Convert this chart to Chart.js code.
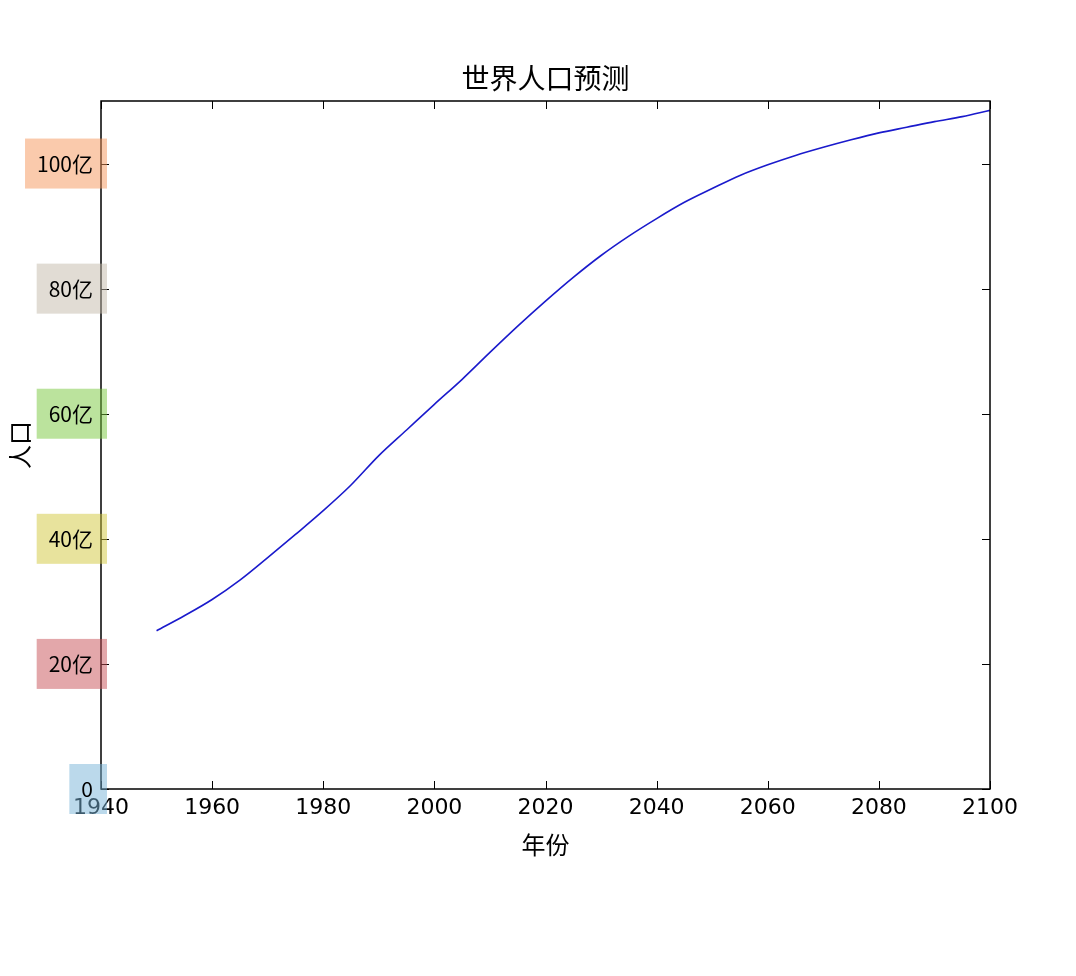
<!DOCTYPE html>
<html><head><meta charset="utf-8">
<script src="https://cdn.jsdelivr.net/npm/chart.js@4"></script>
<style>html,body{margin:0;padding:0;background:#fff}#w{width:1076px;height:976px}</style>
</head><body><div id="w"><canvas id="c"></canvas></div>
<script>
const years = [1950,1955,1960,1965,1970,1975,1980,1985,1990,1995,2000,2005,2010,2015,2020,2025,2030,2035,2040,2045,2050,2055,2060,2065,2070,2075,2080,2085,2090,2095,2100];
const population = [2.53,2.77,3.03,3.34,3.70,4.07,4.45,4.86,5.33,5.74,6.15,6.55,6.98,7.40,7.80,8.18,8.53,8.84,9.12,9.38,9.60,9.81,9.98,10.13,10.26,10.38,10.49,10.58,10.67,10.75,10.85];
const xTicks = [1940,1960,1980,2000,2020,2040,2060,2080,2100];
const yTicks = [0,2,4,6,8,10];
const yTickLabels = ['0','20亿','40亿','60亿','80亿','100亿'];
const yTickColors = ['rgba(120,180,215,0.5)','rgba(200,80,85,0.5)','rgba(210,200,60,0.5)','rgba(120,200,60,0.5)','rgba(195,185,170,0.5)','rgba(245,150,90,0.5)'];
const CJK = '"Noto Sans CJK SC","DejaVu Sans",sans-serif';
const deco = {
  id:'deco',
  afterDraw(ch){
    const {ctx, chartArea:a, scales:{x,y}} = ch;
    ctx.save();
    ctx.strokeStyle='#000'; ctx.lineWidth=1.5;
    ctx.strokeRect(a.left,a.top,a.right-a.left,a.bottom-a.top);
    ctx.lineWidth=1;
    xTicks.forEach(v=>{const p=Math.round(x.getPixelForValue(v))+0.5;
      ctx.beginPath();ctx.moveTo(p,a.bottom);ctx.lineTo(p,a.bottom-8);ctx.moveTo(p,a.top);ctx.lineTo(p,a.top+8);ctx.stroke();});
    yTicks.forEach(v=>{const p=Math.round(y.getPixelForValue(v))+0.5;
      ctx.beginPath();ctx.moveTo(a.left,p);ctx.lineTo(a.left+8,p);ctx.moveTo(a.right,p);ctx.lineTo(a.right-8,p);ctx.stroke();});
    ctx.fillStyle='#000';ctx.font='22px "DejaVu Sans",sans-serif';ctx.textAlign='center';ctx.textBaseline='top';
    xTicks.forEach(v=>ctx.fillText(String(v),x.getPixelForValue(v),a.bottom+8));
    ctx.font='21px '+CJK;ctx.textAlign='right';ctx.textBaseline='middle';
    yTicks.forEach((v,i)=>{const p=y.getPixelForValue(v);const w=ctx.measureText(yTickLabels[i]).width;
      ctx.fillStyle=yTickColors[i];ctx.fillRect(a.left-w-20,p-25,w+26,50);
      ctx.fillStyle='#000';ctx.fillText(yTickLabels[i],a.left-8,p);});
    ctx.textAlign='center';ctx.font='28px '+CJK;
    ctx.fillText('世界人口预测',(a.left+a.right)/2,78);
    ctx.font='24px '+CJK;
    ctx.fillText('年份',(a.left+a.right)/2,845);
    ctx.translate(20,(a.top+a.bottom)/2);ctx.rotate(-Math.PI/2);ctx.fillText('人口',0,0);
    ctx.restore();
  }
};
new Chart(document.getElementById('c'),{
  type:'line',
  data:{datasets:[{data:years.map((yr,i)=>({x:yr,y:population[i]})),borderColor:'#1a1acc',borderWidth:1.6,pointRadius:0,cubicInterpolationMode:'monotone',fill:false}]},
  options:{responsive:true,maintainAspectRatio:false,animation:false,
    layout:{padding:{left:101,right:86,top:101,bottom:187}},
    plugins:{legend:{display:false},tooltip:{enabled:false}},
    scales:{x:{type:'linear',min:1940,max:2100,display:false},y:{min:0,max:11,display:false}}},
  plugins:[deco]
});
</script></body></html>
